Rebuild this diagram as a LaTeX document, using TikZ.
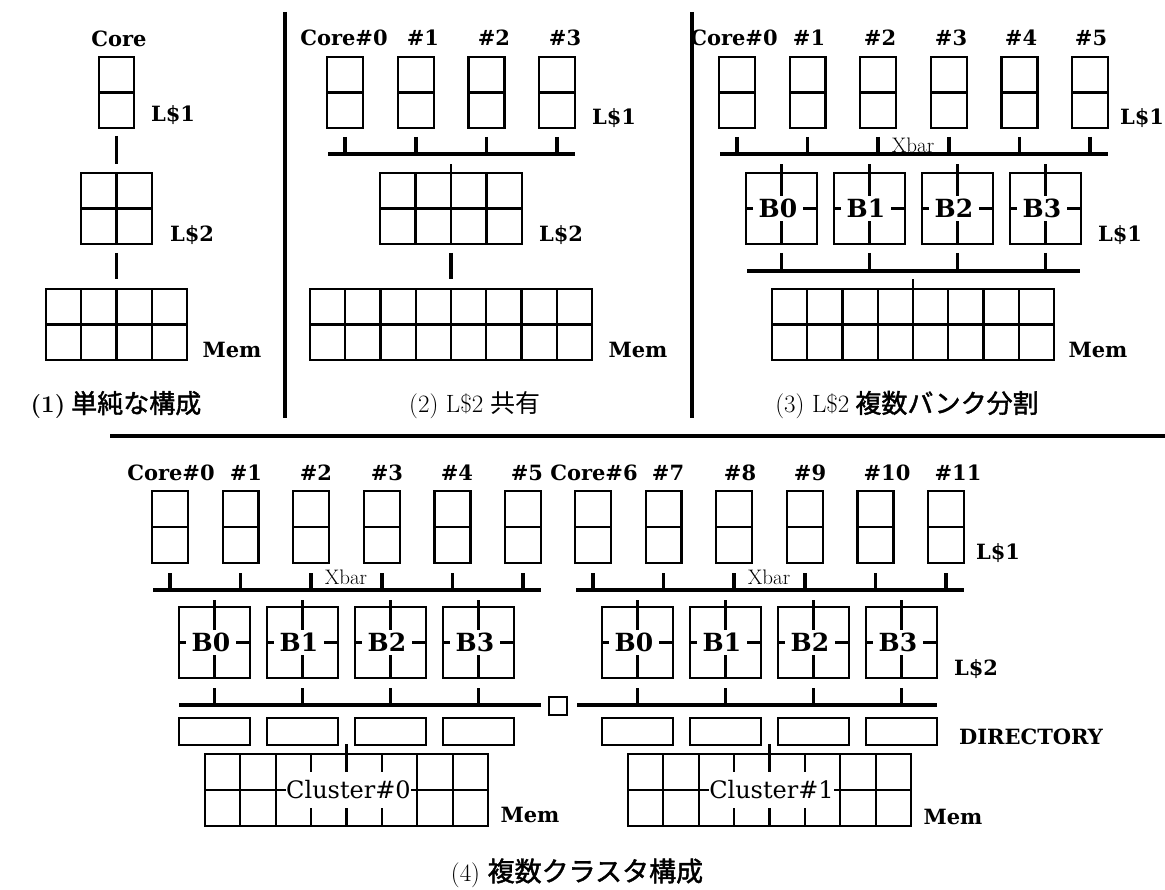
\documentclass[tikz,border=0pt]{standalone}
\usepackage{fontspec}
\newfontfamily\cjk{Noto Sans CJK JP}
\newfontfamily\cjkb[FakeBold=1.6]{Noto Sans CJK JP}
\newfontfamily\lblfont{DejaVu Serif}
\usetikzlibrary{calc}
\newcommand{\gbox}[7]{%
  \node[cell, anchor=north west, minimum width=#4pt, minimum height=#5pt] (#1) at (#2,#3) {};
  \draw[thinl, shift={(#1.north west)}, xstep=#6pt, ystep=#7pt] (0,0) grid (#4,#5);
}
\newcommand{\bankbox}[5]{% name, x, y, label, tick length
  \node[cell, anchor=north west, minimum width=71pt, minimum height=71pt] (#1) at (#2,#3) {};
  \draw[thinl] (#1.north) -- (#1.south) (#1.west) -- (#1.east);
  \draw[thinl] (#1.north) -- ([yshift=#5pt]#1.north);
  \node[blbl] (#1l) at ([xshift=-3.5pt]#1.center) {#4};
}
\begin{document}
\begin{tikzpicture}[x=1pt,y=-1pt,
  cell/.style={draw, line width=2.2pt, inner sep=0, outer sep=0, rectangle},
  thinl/.style={line width=2.2pt},
  thickl/.style={line width=3.6pt},
  sepl/.style={line width=3.2pt},
  lbl/.style={font=\lblfont\bfseries\fontsize{21}{25}\selectfont, inner sep=0},
  blbl/.style={font=\lblfont\bfseries\fontsize{25}{30}\selectfont, fill=white, inner sep=0, minimum width=50pt, minimum height=25pt},
  xbarl/.style={font=\fontsize{21}{24}\selectfont, inner sep=0},
  clbl/.style={font=\lblfont\fontsize{24}{28}\selectfont, fill=white, inner sep=0, minimum width=125pt, minimum height=36pt},
  captxt/.style={font=\fontsize{25}{30}\selectfont, inner sep=0},
  bcjk/.style={font={\cjkb\fontsize{26}{30}\selectfont}, inner sep=0},
]
\useasboundingbox (0,0) rectangle (1165,890);

% ---------- separators ----------
\coordinate (s1t) at (285,12); \coordinate (s1b) at (285,418);
\draw[sepl] (s1t) -- (s1b);
\coordinate (s2t) at (692,12); \coordinate (s2b) at (692,418);
\draw[sepl] (s2t) -- (s2b);
\coordinate (hs1) at (110,436); \coordinate (hs2) at (1165,436);
\draw[sepl] (hs1) -- (hs2);

% ---------- panel 1 ----------
\node[lbl] (p1core) at (119,39) {Core};
\gbox{p1c}{99}{57}{35}{71}{35}{35.5}
\node[lbl] (p1l1) at (173,115) {L\$1};
\gbox{p1l2}{81}{173}{71}{71}{35.5}{35.5}
\node[lbl] (p1l2t) at (192,235) {L\$2};
\gbox{p1m}{46}{289}{141}{71}{35.25}{35.5}
\node[lbl] (p1mt) at (232,350) {Mem};
\draw[thickl] ([yshift=-8pt]p1c.south) -- ([yshift=9pt]p1l2.north);
\draw[thickl] ([yshift=-9pt]p1l2.south) -- ([yshift=10pt]p1m.north);
\node[bcjk] (cap1) at (116,405) {{\rmfamily\bfseries\fontsize{24}{30}\selectfont (1)}\hspace{6pt}単純な構成};

% ---------- panel 2 ----------
\node[lbl] (p2t0) at (344,38) {Core\#0};
\node[lbl] (p2t1) at (423,38) {\#1};
\node[lbl] (p2t2) at (494,38) {\#2};
\node[lbl] (p2t3) at (565,38) {\#3};
\coordinate (p2ba) at (328,154); \coordinate (p2bb) at (575,154);
\draw[thickl] (p2ba) -- (p2bb);
\foreach \i in {0,...,3} {
  \pgfmathsetmacro\xx{327+70.7*\i}
  \gbox{p2c\i}{\xx}{57}{36}{71}{36}{35.5}
  \draw[thickl] ([yshift=-9pt]p2c\i.south) -- (p2c\i.south |- p2ba);
}
\node[lbl] (p2l1) at (614,118) {L\$1};
\gbox{p2l2}{380}{173}{142}{71}{35.5}{35.5}
\draw[thinl] (p2l2.north) -- ([yshift=9pt]p2l2.north);
\node[lbl] (p2l2t) at (561,235) {L\$2};
\gbox{p2m}{310}{289}{282}{71}{35.25}{35.5}
\draw[thickl] ([yshift=-9pt]p2l2.south) -- ([yshift=10pt]p2m.north);
\node[lbl] (p2mt) at (638,350) {Mem};
\node[captxt] (cap2) at (475,405) {(2) L\$2 {\cjk 共有}};

% ---------- panel 3 ----------
\node[lbl] (p3t0) at (734,38) {Core\#0};
\node[lbl] (p3t1) at (809,38) {\#1};
\node[lbl] (p3t2) at (880,38) {\#2};
\node[lbl] (p3t3) at (951,38) {\#3};
\node[lbl] (p3t4) at (1021,38) {\#4};
\node[lbl] (p3t5) at (1091,38) {\#5};
\coordinate (p3ba) at (720,154); \coordinate (p3bb) at (1108,154);
\draw[thickl] (p3ba) -- (p3bb);
\foreach \i in {0,...,5} {
  \pgfmathsetmacro\xx{719+70.6*\i}
  \gbox{p3c\i}{\xx}{57}{36}{71}{36}{35.5}
  \draw[thickl] ([yshift=-9pt]p3c\i.south) -- (p3c\i.south |- p3ba);
}
\node[lbl] (p3l1) at (1142,118) {L\$1};
\node[xbarl] (p3xbar) at (913,145) {Xbar};
\coordinate (p3ca) at (747,271); \coordinate (p3cb) at (1080,271);
\draw[thickl] (p3ca) -- (p3cb);
\foreach \i in {0,...,3} {
  \pgfmathsetmacro\xx{746+88*\i}
  \bankbox{p3b\i}{\xx}{173}{B\i}{9}
  \draw[thickl] ([yshift=-9pt]p3b\i.south) -- (p3b\i.south |- p3ca);
}
\node[lbl] (p3l1b) at (1120,235) {L\$1};
\gbox{p3m}{772}{289}{282}{71}{35.25}{35.5}
\draw[thinl] (p3m.north) -- ([yshift=10pt]p3m.north);
\node[lbl] (p3mt) at (1098,350) {Mem};
\node[captxt] (cap3) at (907,405) {(3) L\$2\hspace{6pt}{\cjkb\fontsize{26}{30}\selectfont 複数バンク分割}};

% ---------- panel 4 ----------
\node[lbl] (q0t0) at (171,473) {Core\#0};
\node[lbl] (q0t1) at (246,473) {\#1};
\node[lbl] (q0t2) at (316,473) {\#2};
\node[lbl] (q0t3) at (387,473) {\#3};
\node[lbl] (q0t4) at (457,473) {\#4};
\node[lbl] (q0t5) at (527,473) {\#5};
\node[lbl] (q1t0) at (594,473) {Core\#6};
\node[lbl] (q1t1) at (668,473) {\#7};
\node[lbl] (q1t2) at (740,473) {\#8};
\node[lbl] (q1t3) at (810,473) {\#9};
\node[lbl] (q1t4) at (887,473) {\#10};
\node[lbl] (q1t5) at (958,473) {\#11};

\foreach \k/\dx/\ba/\bb in {0/0/179/541, 1/423/577/937} {
  % L1 boxes and Xbar
  \coordinate (q\k xa) at ({153+\dx},590); \coordinate (q\k xb) at ({541+\dx},590);
  \draw[thickl] (q\k xa) -- (q\k xb);
  \foreach \i in {0,...,5} {
    \pgfmathsetmacro\xx{152+\dx+70.6*\i}
    \gbox{q\k c\i}{\xx}{491}{36}{72}{36}{36}
    \draw[thickl] ([yshift=-10pt]q\k c\i.south) -- (q\k c\i.south |- q\k xa);
  }
  \node[xbarl] (q\k xbar) at ({346+\dx},577) {Xbar};
  % banks
  \coordinate (q\k ba) at (\ba,705); \coordinate (q\k bb) at (\bb,705);
  \draw[thickl] (q\k ba) -- (q\k bb);
  \foreach \i in {0,...,3} {
    \pgfmathsetmacro\xx{179+\dx+88*\i}
    \bankbox{q\k b\i}{\xx}{607}{B\i}{7}
    \draw[thickl] ([yshift=-10pt]q\k b\i.south) -- (q\k b\i.south |- q\k ba);
    \node[cell, anchor=north west, minimum width=71pt, minimum height=27pt] (q\k d\i) at (\xx,718) {};
  }
  % memory
  \gbox{q\k m}{\dx+205}{754}{283}{72}{35.375}{36}
  \draw[thinl] (q\k m.north) -- ([yshift=10pt]q\k m.north);
  \node[clbl] (q\k ml) at ([xshift=2pt]q\k m.center) {Cluster\#\k};
}
\node[cell, minimum width=18pt, minimum height=18pt] (sq) at (558,706) {};
\node[lbl] (q1l1) at (998,553) {L\$1};
\node[lbl] (q1l2) at (976,669) {L\$2};
\node[lbl] (qdir) at (1031,737) {DIRECTORY};
\node[lbl] (q0mt) at (530,815) {Mem};
\node[lbl] (q1mt) at (953,817) {Mem};
\node[captxt] (cap4) at (577,873) {(4) {\cjkb\fontsize{27}{30}\selectfont 複数クラスタ構成}};
\end{tikzpicture}
\end{document}
